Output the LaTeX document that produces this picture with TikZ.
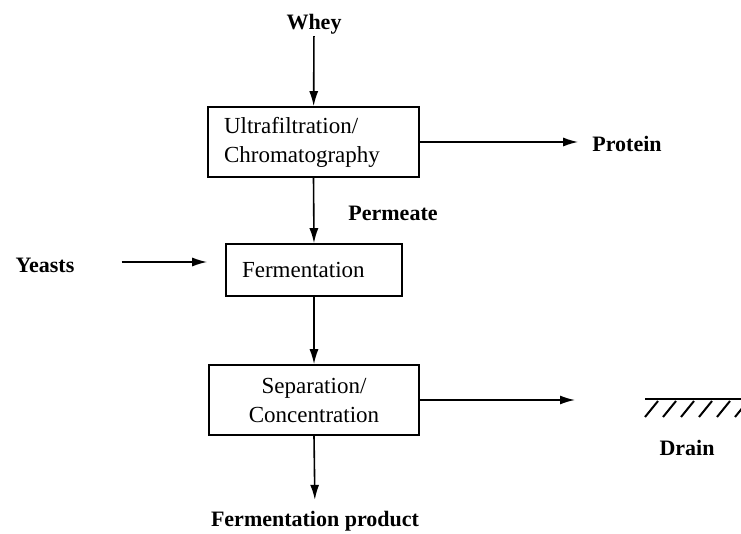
\documentclass[tikz,border=0pt]{standalone}
\usepackage{fontspec}
\setmainfont{Liberation Serif}
\usetikzlibrary{arrows.meta}
\tikzset{
  procbox/.style={draw,line width=1.6pt,inner xsep=16pt,inner ysep=0pt,
    font=\fontsize{23}{29}\selectfont},
  flowlabel/.style={font=\fontsize{22}{26}\selectfont\bfseries,inner sep=0pt},
  flow/.style={->,line width=1.6pt}
}
\begin{document}
\begin{tikzpicture}[>={Latex[length=15pt,width=9pt]},x=1pt,y=-1pt]
    \useasboundingbox (0,0) rectangle (741,534);
    % process boxes
    \node[procbox,minimum width=211pt,minimum height=70pt,text width=179pt,align=left] (uf) at (313.5,142) {Ultrafiltration/\\Chromatography};
    \node[procbox,minimum width=176pt,minimum height=52pt,text width=144pt,align=left] (ferm) at (314,270) {Fermentation};
    \node[procbox,minimum width=210pt,minimum height=70pt,align=center] (sep) at (314,400) {Separation/\\Concentration};
    % streams
    \node[flowlabel] (whey) at (314,24) {Whey};
    \node[flowlabel] (protein) at (627,144) {Protein};
    \node[flowlabel] (permeate) at (393,213) {Permeate};
    \node[flowlabel] (yeasts) at (45,265) {Yeasts};
    \node[flowlabel] (product) at (315,521) {Fermentation product};
    \node[flowlabel] (drain) at (687,448) {Drain};
    \coordinate (gnd) at (645,399);
    \draw[flow,shorten <=2pt] (whey) -- (uf);
    \draw[flow] (uf.south) -- (ferm.north);
    \draw[flow] (ferm.south) -- (sep.north);
    \draw[flow,shorten >=14pt] (uf.east) -- (uf.east -| protein.west);
    \draw[flow,shorten <=47pt,shorten >=18pt] ([yshift=3pt]yeasts.east) -- ([yshift=3pt]yeasts.east -| ferm.west);
    \draw[flow,shorten >=70pt] (sep.east) -- (sep.east -| gnd);
    \draw[flow,shorten >=11pt] (sep.south) -- (product.north);
    % drain
    \begin{scope}
        \clip (640,390) rectangle (741,420);
        \draw[line width=1.6pt] (gnd) -- ++(100,0);
        \foreach \i in {0,...,5}
            \draw[line width=2pt] (645+18*\i,417) -- (658+18*\i,401);
    \end{scope}
\end{tikzpicture}
\end{document}
